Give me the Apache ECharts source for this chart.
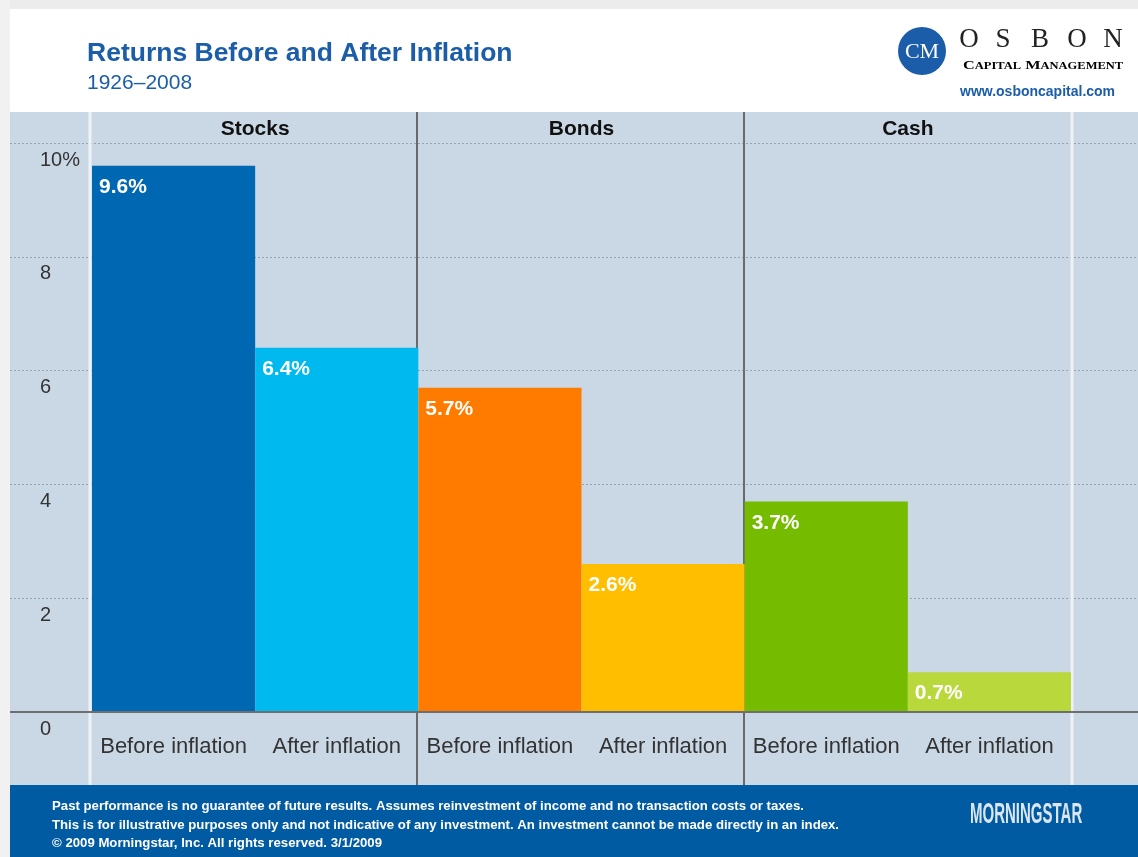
<!DOCTYPE html>
<html>
<head>
<meta charset="utf-8">
<script src="https://cdn.jsdelivr.net/npm/echarts@6/dist/echarts.min.js"></script>
<style>
html,body{margin:0;padding:0;background:#f0f0f0;}
#chart{width:1138px;height:857px;}
</style>
</head>
<body>
<div id="chart"></div>
<script>
const groups = ['Stocks', 'Bonds', 'Cash'];
const phases = ['Before inflation', 'After inflation'];
const beforeInflation = [9.6, 5.7, 3.7];
const afterInflation = [6.4, 2.6, 0.7];
const beforeColors = ['#0067b2', '#ff7b00', '#75bc00'];
const afterColors = ['#00b9ef', '#ffbe00', '#b8d83c'];
const yMin = 0, yMax = 10, yStep = 2;

const categories = [];
const barData = [];
groups.forEach((g, i) => {
  categories.push(g + '|' + phases[0]);
  barData.push({ value: beforeInflation[i], itemStyle: { color: beforeColors[i] } });
  categories.push(g + '|' + phases[1]);
  barData.push({ value: afterInflation[i], itemStyle: { color: afterColors[i] } });
});

const chart = echarts.init(document.getElementById('chart'), null, { renderer: 'canvas' });
const FONT = 'Liberation Sans, Arial, sans-serif';
const SERIF = 'Liberation Serif, Times New Roman, serif';

const osbonLetters = ['O', 'S', 'B', 'O', 'N'];
const osbonX = [969, 1003, 1040, 1077, 1113];

const staticGraphics = [
  { type: 'rect', id: 'leftStrip', shape: { x: 0, y: 0, width: 10, height: 857 }, style: { fill: '#f1f1f1' }, z: 5 },
  { type: 'rect', id: 'topStrip', shape: { x: 10, y: 0, width: 1128, height: 9 }, style: { fill: '#ececec' }, z: 5 },
  { type: 'rect', id: 'header', shape: { x: 10, y: 9, width: 1128, height: 103 }, style: { fill: '#ffffff' }, z: 5 },
  { type: 'rect', id: 'footer', shape: { x: 10, y: 785, width: 1128, height: 72 }, style: { fill: '#005ba2' }, z: 5 },
  { type: 'text', id: 'title', x: 87, y: 54, z: 6, style: { text: 'Returns Before and After Inflation', fill: '#1b5da8', font: 'bold 26.5px ' + FONT, verticalAlign: 'middle' } },
  { type: 'text', id: 'subtitle', x: 87, y: 83, z: 6, style: { text: '1926–2008', fill: '#1b5da8', font: '21px ' + FONT, verticalAlign: 'middle' } },
  { type: 'circle', id: 'logoCircle', shape: { cx: 922, cy: 51, r: 24 }, style: { fill: '#1b5da8' }, z: 6 },
  { type: 'text', id: 'logoCM', x: 922, y: 52, z: 7, style: { text: 'CM', fill: '#ffffff', font: '22px ' + SERIF, align: 'center', verticalAlign: 'middle' } }
].concat(osbonLetters.map((ch, i) => ({
  type: 'text', id: 'osbon' + i, x: osbonX[i], y: 40, z: 6,
  style: { text: ch, fill: '#222222', font: '27px ' + SERIF, align: 'center', verticalAlign: 'middle' }
}))).concat([
  { type: 'text', id: 'capmgmt', x: 963, y: 66, scaleX: 1.25, z: 6, style: {
      text: '{a|C}{b|APITAL} {a|M}{b|ANAGEMENT}', verticalAlign: 'middle',
      rich: { a: { fontFamily: SERIF, fontSize: 13, fontWeight: 'bold', color: '#333' }, b: { fontFamily: SERIF, fontSize: 10, fontWeight: 'bold', color: '#333' } } } },
  { type: 'text', id: 'url', x: 960, y: 92, z: 6, style: { text: 'www.osboncapital.com', fill: '#1b5da8', font: 'bold 14px ' + FONT, verticalAlign: 'middle' } },
  { type: 'text', id: 'foot1', x: 52, y: 806, z: 6, style: { text: 'Past performance is no guarantee of future results. Assumes reinvestment of income and no transaction costs or taxes.', fill: '#ffffff', font: 'bold 13.2px ' + FONT, verticalAlign: 'middle' } },
  { type: 'text', id: 'foot2', x: 52, y: 825, z: 6, style: { text: 'This is for illustrative purposes only and not indicative of any investment. An investment cannot be made directly in an index.', fill: '#ffffff', font: 'bold 13.2px ' + FONT, verticalAlign: 'middle' } },
  { type: 'text', id: 'foot3', x: 52, y: 843, z: 6, style: { text: '© 2009 Morningstar, Inc. All rights reserved. 3/1/2009', fill: '#ffffff', font: 'bold 13.2px ' + FONT, verticalAlign: 'middle' } },
  { type: 'text', id: 'mstar', x: 970, y: 815, scaleX: 0.5, z: 6, style: { text: 'MORNINGSTAR', fill: '#dce6f1', font: 'bold 30px ' + FONT, verticalAlign: 'middle' } }
]);

chart.setOption({
  backgroundColor: '#cad8e6',
  animation: false,
  grid: [
    { left: 10, right: 0, top: 143, bottom: 145 },
    { left: 92, right: 67, top: 143, bottom: 145 }
  ],
  xAxis: [
    { gridIndex: 0, type: 'value', min: 0, max: 1, z: 4,
      axisLine: { show: true, lineStyle: { color: '#6e6e6e', width: 2 } },
      axisTick: { show: false }, axisLabel: { show: false }, splitLine: { show: false } },
    { gridIndex: 1, type: 'category', data: categories,
      axisLine: { show: false }, axisTick: { show: false }, splitLine: { show: false },
      axisLabel: { interval: 0, margin: 24, fontSize: 22, color: '#333333', fontFamily: FONT,
        formatter: v => v.split('|')[1] } },
    { gridIndex: 1, type: 'category', position: 'top', data: groups,
      axisLine: { show: false }, axisTick: { show: false }, splitLine: { show: false },
      axisLabel: { interval: 0, margin: 3, fontSize: 21, fontWeight: 'bold', color: '#111111', fontFamily: FONT } }
  ],
  yAxis: [
    { gridIndex: 0, type: 'value', min: yMin, max: yMax, interval: yStep,
      axisLine: { show: false }, axisTick: { show: false }, axisLabel: { show: false },
      splitLine: { show: true, lineStyle: { type: [2, 2], color: '#97a3b0', width: 1 } } },
    { gridIndex: 1, type: 'value', min: yMin, max: yMax, interval: yStep,
      axisLine: { show: false }, axisTick: { show: false }, splitLine: { show: false },
      axisLabel: { align: 'left', margin: 52, verticalAlign: 'top', padding: [7, 0, 0, 0],
        fontSize: 20, color: '#333333', fontFamily: FONT,
        formatter: v => (v === yMax ? v + '%' : String(v)) } }
  ],
  series: [{
    type: 'bar', xAxisIndex: 1, yAxisIndex: 1, data: barData,
    barCategoryGap: '0%', barGap: '0%', z: 3,
    label: { show: true, position: [7, 11], color: '#ffffff', fontWeight: 'bold',
      fontSize: 21, fontFamily: FONT, formatter: p => p.value.toFixed(1) + '%' }
  }],
  graphic: staticGraphics
});

// Section dividers at category boundaries
const c0 = chart.convertToPixel({ xAxisIndex: 1 }, categories[0]);
const c1 = chart.convertToPixel({ xAxisIndex: 1 }, categories[1]);
const bw = c1 - c0;
const boundary = k => c0 - bw / 2 + k * bw;
const dividers = [];
const n = categories.length;
for (let k = 0; k <= n; k += 2) {
  const edge = (k === 0 || k === n);
  const x = Math.round(boundary(k)) + (k === 0 ? -2 : (k === n ? 1 : -1));
  dividers.push({
    type: 'line', id: 'div' + k, z: 1,
    shape: { x1: x, y1: 112, x2: x, y2: 785 },
    style: { stroke: edge ? '#eef2f7' : '#6a6a6a', lineWidth: edge ? 3 : 2 }
  });
}
chart.setOption({ graphic: staticGraphics.concat(dividers) });
</script>
</body>
</html>
